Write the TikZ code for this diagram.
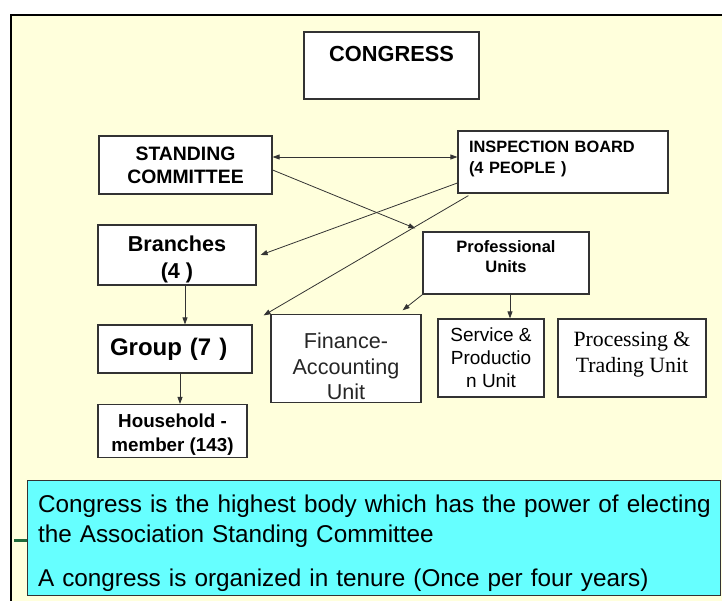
\documentclass[tikz,border=0pt]{standalone}
\usepackage{fontspec}
\setmainfont{Liberation Sans}
\newfontfamily\serifunit{Liberation Serif}
\usetikzlibrary{arrows.meta,calc}
\definecolor{paper}{HTML}{FFFFDC}
\definecolor{notecyan}{HTML}{66FFFF}
\definecolor{edge}{HTML}{333333}
\definecolor{stubgreen}{HTML}{1F6B3A}
\tikzset{
    unit/.style={rectangle, draw=edge, fill=white, line width=1.2pt, inner sep=2pt, align=center, text=black},
    arrow/.style={-{Triangle[length=7pt,width=5pt]}, line width=0.8pt, color=edge},
    biarrow/.style={arrow, {Triangle[length=7pt,width=5pt]}-{Triangle[length=7pt,width=5pt]}},
    note/.style={rectangle, draw=edge, fill=notecyan, line width=1pt, align=left, inner xsep=11pt, text=black},
    stub/.style={draw=stubgreen, line width=3pt}
}

\begin{document}
\begin{tikzpicture}[x=1pt, y=-1pt]
\useasboundingbox (0,0) rectangle (722,601);
\fill[paper] (11,15) rectangle (722,601);
\draw[line width=2pt] (11,601) -- (11,15) -- (722,15);

\node[unit, minimum width=175pt, minimum height=67pt, font=\fontsize{21.8}{26}\selectfont\bfseries] (congress) at (391.5,65.5) {CONGRESS\rule[-24pt]{0pt}{24pt}};

\node[unit, minimum width=173pt, minimum height=58pt, font=\fontsize{19.4}{23}\selectfont\bfseries] (stand) at (185.5,165) {STANDING\\COMMITTEE};
\node[unit, minimum width=210pt, minimum height=62pt, align=left, text width=188pt, inner xsep=11pt, font=\fontsize{16.4}{21}\selectfont\bfseries] (insp) at (563,162) {INSPECTION BOARD\\(4 PEOPLE )\rule[-10pt]{0pt}{10pt}};

\node[unit, minimum width=158pt, minimum height=60pt, font=\fontsize{21.6}{27}\selectfont\bfseries] (branch) at (177,255) {\rule{0pt}{24pt}Branches\\(4 )};
\node[unit, minimum width=166pt, minimum height=62pt, font=\fontsize{16.5}{20}\selectfont\bfseries] (prof) at (506,263) {Professional\\Units\rule[-12pt]{0pt}{12pt}};

\node[unit, minimum width=154pt, minimum height=48pt, align=left, text width=130pt, inner xsep=12pt, font=\fontsize{24}{28}\selectfont\bfseries] (group) at (175,349) {Group (7 )};
\node[unit, minimum width=149pt, minimum height=50pt, font=\fontsize{18.8}{24}\selectfont\bfseries] (house) at (172.5,431) {\rule{0pt}{21pt}Household -\\member (143)};

\node[unit, minimum width=150pt, minimum height=77pt, text=black!85, font=\fontsize{21.6}{25.5}\selectfont] (fin) at (346,358.5) {\rule{0pt}{32pt}Finance-\\Accounting\\Unit};
\node[unit, minimum width=106pt, minimum height=78pt, font=\fontsize{19}{23}\selectfont] (serv) at (491,358) {Service \&\\Productio\\n Unit};
\node[unit, minimum width=148pt, minimum height=78pt, font=\serifunit\fontsize{21.8}{26}\selectfont] (proc) at (632,358) {Processing \&\\Trading Unit\rule[-11pt]{0pt}{11pt}};

\node[note, minimum width=693pt, minimum height=115pt, text width=671pt, font=\fontsize{24.3}{30}\selectfont] (note) at (373.5,537.5) {\rule{0pt}{29pt}\mbox{Congress is the highest body which has the power of electing}\\the Association Standing Committee\\[14pt]A congress is organized in tenure (Once per four years)};

\coordinate (stubend) at (14,540);
\draw[stub] (stubend) -- (stubend -| note.west);

\draw[biarrow] ([yshift=8pt]stand.east) -- ([yshift=5pt]insp.west);
\draw[arrow] ([yshift=-5pt]stand.east) -- ([xshift=-7pt,yshift=3pt]prof.north west);
\draw[arrow] ([yshift=-21pt]insp.west) -- ([xshift=4pt]branch.east);
\draw[arrow] ([xshift=11pt,yshift=-2pt]insp.south west) -- ([xshift=11pt,yshift=9pt]group.north east);
\draw[arrow] (prof.south west) -- ([xshift=-19pt,yshift=4pt]fin.north east);
\draw[arrow] ([xshift=4pt]prof.south) -- ([xshift=19pt]serv.north);
\draw[arrow] ([xshift=8pt]branch.south) -- ([xshift=10pt]group.north);
\draw[arrow] ([xshift=5pt]group.south) -- ([xshift=7.5pt]house.north);

\end{tikzpicture}
\end{document}
